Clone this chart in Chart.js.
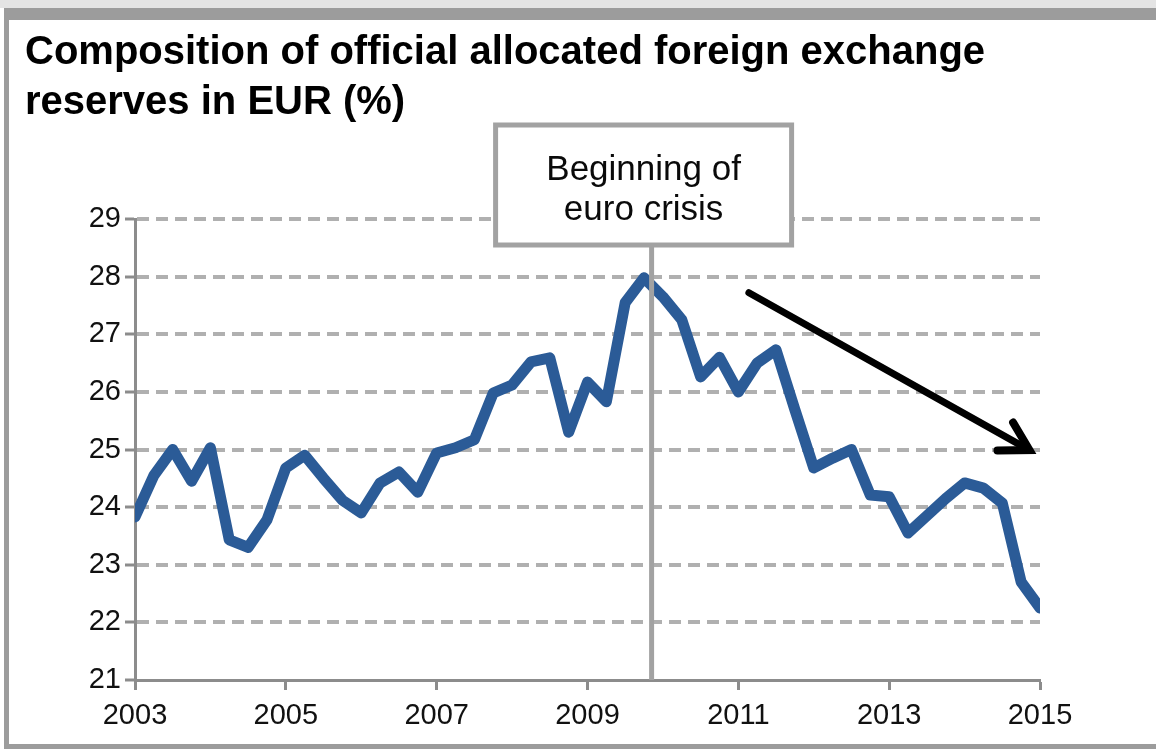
<!DOCTYPE html>
<html>
<head>
<meta charset="utf-8">
<script src="https://cdn.jsdelivr.net/npm/chart.js@4.4.1/dist/chart.umd.min.js"></script>
<style>
  html, body { margin: 0; padding: 0; background: #fff; }
  #wrap { position: relative; width: 1156px; height: 749px; overflow: hidden; }
  #shade { position: absolute; left: 0; top: 0; width: 1156px; height: 8px; background: #e4e4e4; }
  #frame { position: absolute; left: 4px; top: 8px; width: 1152px; height: 741px; box-sizing: border-box;
           border-top: 12px solid #9c9c9c; border-left: 5px solid #9c9c9c; border-bottom: 5px solid #9c9c9c;
           pointer-events: none; }
  canvas { position: absolute; left: 0; top: 0; }
</style>
</head>
<body>
<div id="wrap">
  <canvas id="myChart" width="1156" height="749"></canvas>
  <div id="shade"></div>
  <div id="frame"></div>
</div>
<script>
// quarterly EUR share of allocated reserves, 2003 Q1 .. 2015 Q1
var eurShare = [
  23.83, 24.55, 25.00, 24.45, 25.03, 23.43, 23.30, 23.78,   // 2003-2004
  24.68, 24.90, 24.50, 24.12, 23.90, 24.42, 24.61, 24.26,   // 2005-2006
  24.94, 25.03, 25.17, 25.98, 26.12, 26.52, 26.59, 25.30,   // 2007-2008
  26.17, 25.83, 27.55, 27.98, 27.65, 27.25, 26.26, 26.60,   // 2009-2010
  26.00, 26.50, 26.73, 25.69, 24.68, 24.85, 25.00, 24.21,   // 2011-2012
  24.18, 23.55, 23.85, 24.15, 24.42, 24.33, 24.07, 22.70,   // 2013-2014
  22.25                                                     // 2015
];
var firstYear = 2003;
var yearTicks = [2003, 2005, 2007, 2009, 2011, 2013, 2015];
var crisisDate = 2009.85;
var crisisLabel = ["Beginning of", "euro crisis"];
var arrowFrom = [2011.14, 27.72];
var arrowTo = [2014.86, 24.99];

var fontFamily = "'Liberation Sans', Arial, sans-serif";

var points = eurShare.map(function (v, i) {
  return { x: firstYear + i / 4, y: v };
});

// vertical crisis line + label box + trend arrow
var notes = {
  id: "notes",
  afterDatasetsDraw: function (chart) {
    var ctx = chart.ctx;
    var xs = chart.scales.x, ys = chart.scales.y;
    var area = chart.chartArea;
    var lx = xs.getPixelForValue(crisisDate);

    var boxW = 296, boxH = 120;
    var boxBottom = area.top + 26;
    var boxLeft = lx - 8 - boxW / 2;

    ctx.save();
    ctx.strokeStyle = "#a2a2a2";
    ctx.lineWidth = 5;
    ctx.beginPath();
    ctx.moveTo(lx, boxBottom);
    ctx.lineTo(lx, area.bottom);
    ctx.stroke();

    ctx.fillStyle = "#fff";
    ctx.fillRect(boxLeft, boxBottom - boxH, boxW, boxH);
    ctx.lineWidth = 5;
    ctx.strokeRect(boxLeft, boxBottom - boxH, boxW, boxH);

    ctx.fillStyle = "#0a0a0a";
    ctx.font = "35px " + fontFamily;
    ctx.textAlign = "center";
    ctx.textBaseline = "middle";
    ctx.fillText(crisisLabel[0], boxLeft + boxW / 2, boxBottom - boxH + 45);
    ctx.fillText(crisisLabel[1], boxLeft + boxW / 2, boxBottom - boxH + 85);

    // arrow
    var x1 = xs.getPixelForValue(arrowFrom[0]), y1 = ys.getPixelForValue(arrowFrom[1]);
    var x2 = xs.getPixelForValue(arrowTo[0]), y2 = ys.getPixelForValue(arrowTo[1]);
    var ang = Math.atan2(y2 - y1, x2 - x1);
    var head = 32, spread = Math.PI / 6;
    ctx.strokeStyle = "#000";
    ctx.lineWidth = 7;
    ctx.lineCap = "round";
    ctx.lineJoin = "miter";
    ctx.beginPath();
    ctx.moveTo(x1, y1);
    ctx.lineTo(x2, y2);
    ctx.stroke();
    ctx.lineWidth = 8;
    ctx.beginPath();
    ctx.moveTo(x2 - head * Math.cos(ang - spread), y2 - head * Math.sin(ang - spread));
    ctx.lineTo(x2, y2);
    ctx.lineTo(x2 - head * Math.cos(ang + spread), y2 - head * Math.sin(ang + spread));
    ctx.stroke();
    ctx.restore();
  }
};

new Chart("myChart", {
  type: "line",
  data: {
    datasets: [{
      data: points,
      borderColor: "#2b5b97",
      borderWidth: 11,
      borderJoinStyle: "round",
      borderCapStyle: "round",
      pointRadius: 0,
      tension: 0,
      fill: false
    }]
  },
  options: {
    responsive: false,
    animation: false,
    devicePixelRatio: 1,
    layout: { padding: { left: 25, right: 116, top: 0, bottom: 0 } },
    plugins: {
      legend: { display: false },
      tooltip: { enabled: false },
      title: {
        display: true,
        text: ["Composition of official allocated foreign exchange", "reserves in EUR (%)"],
        align: "start",
        color: "#000",
        font: { family: fontFamily, size: 40, weight: "bold", lineHeight: 1.25 },
        padding: { top: 28, bottom: 91 }
      }
    },
    scales: {
      x: {
        type: "linear",
        min: 2003,
        max: 2015,
        afterBuildTicks: function (scale) {
          scale.ticks = yearTicks.map(function (v) { return { value: v }; });
        },
        afterFit: function (scale) { scale.height = 69; },
        grid: {
          drawOnChartArea: false,
          drawTicks: true,
          tickLength: 10,
          tickWidth: 3,
          color: "#8c8c8c"
        },
        border: { display: true, color: "#8c8c8c", width: 3 },
        ticks: {
          color: "#111",
          padding: 9,
          maxRotation: 0,
          font: { family: fontFamily, size: 29 },
          callback: function (v) { return String(v); }
        }
      },
      y: {
        min: 21,
        max: 29,
        afterFit: function (scale) { scale.width = 110; },
        grid: {
          drawTicks: true,
          tickLength: 10,
          tickWidth: 3,
          tickColor: "#8c8c8c",
          lineWidth: 4,
          color: function (c) { return c.tick && c.tick.value === 21 ? "rgba(0,0,0,0)" : "#b0b0b0"; }
        },
        border: { display: true, color: "#8c8c8c", width: 3, dash: [12, 7] },
        ticks: {
          stepSize: 1,
          color: "#111",
          padding: 4,
          font: { family: fontFamily, size: 29 }
        }
      }
    }
  },
  plugins: [notes]
});
</script>
</body>
</html>
